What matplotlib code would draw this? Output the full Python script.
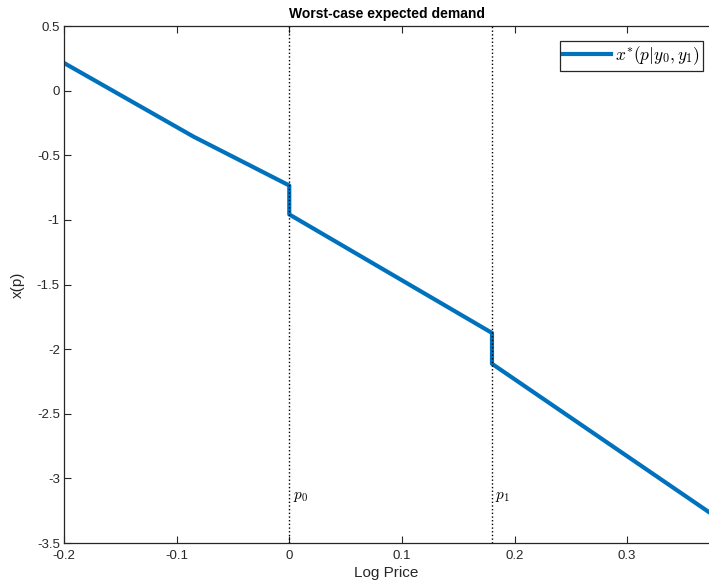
import numpy as np
import matplotlib
matplotlib.use("Agg")
from matplotlib import pyplot as plt

plt.rcParams['font.family'] = ['Liberation Sans', 'DejaVu Sans']
plt.rcParams['mathtext.fontset'] = 'cm'

# piecewise demand curve (jumps at p0 and p1)
log_price = [-0.2, -0.085, 0.0, 0.0, 0.18, 0.18, 0.3727]
demand = [0.215, -0.355, -0.733, -0.957, -1.874, -2.113, -3.261]
p_marks = [0.0, 0.18]
p_labels = ['$p_0$', '$p_1$']

grey = '#262626'

fig = plt.figure(figsize=(7.09, 5.88), dpi=100)
ax = fig.add_axes([0.0903, 0.0765, 0.9097, 0.879])

ax.plot(log_price, demand, color='#0072BD', lw=3, label='$x^{*}(p|y_0,y_1)$')
for p, lab in zip(p_marks, p_labels):
    ax.axvline(p, color='black', ls=':', lw=1)
    ax.text(p + 0.003, -3.16, lab, fontsize=11)

ax.set_xlim(-0.2, 0.3727)
ax.set_ylim(-3.5, 0.5)
ax.set_xticks([-0.2, -0.1, 0, 0.1, 0.2, 0.3])
ax.set_xticklabels(['-0.2', '-0.1', '0', '0.1', '0.2', '0.3'])
ax.set_yticks(np.arange(-3.5, 0.51, 0.5))
ax.set_yticklabels(['-3.5', '-3', '-2.5', '-2', '-1.5', '-1', '-0.5', '0', '0.5'])
ax.tick_params(direction='in', top=True, right=False, labelsize=9.5, length=5,
               colors=grey)
ax.tick_params(axis='x', pad=5)
ax.tick_params(axis='y', pad=3)
ax.set_xlabel('Log Price', fontsize=11, labelpad=3, color=grey)
ax.set_ylabel('x(p)', fontsize=11, labelpad=9, color=grey)
ax.set_title('Worst-case expected demand', fontsize=10, fontweight='bold', pad=6)
ax.spines['right'].set_visible(False)
for s in ax.spines.values():
    s.set_linewidth(0.9)
    s.set_color(grey)

leg = ax.legend(loc='upper right', fontsize=12.5, fancybox=False, framealpha=1,
                edgecolor=grey, borderpad=0.2, handlelength=2.75, handletextpad=0.2,
                borderaxespad=0, bbox_to_anchor=(0.9907, 0.971))
leg.get_frame().set_linewidth(0.9)

fig.savefig('out.png', dpi=100)
